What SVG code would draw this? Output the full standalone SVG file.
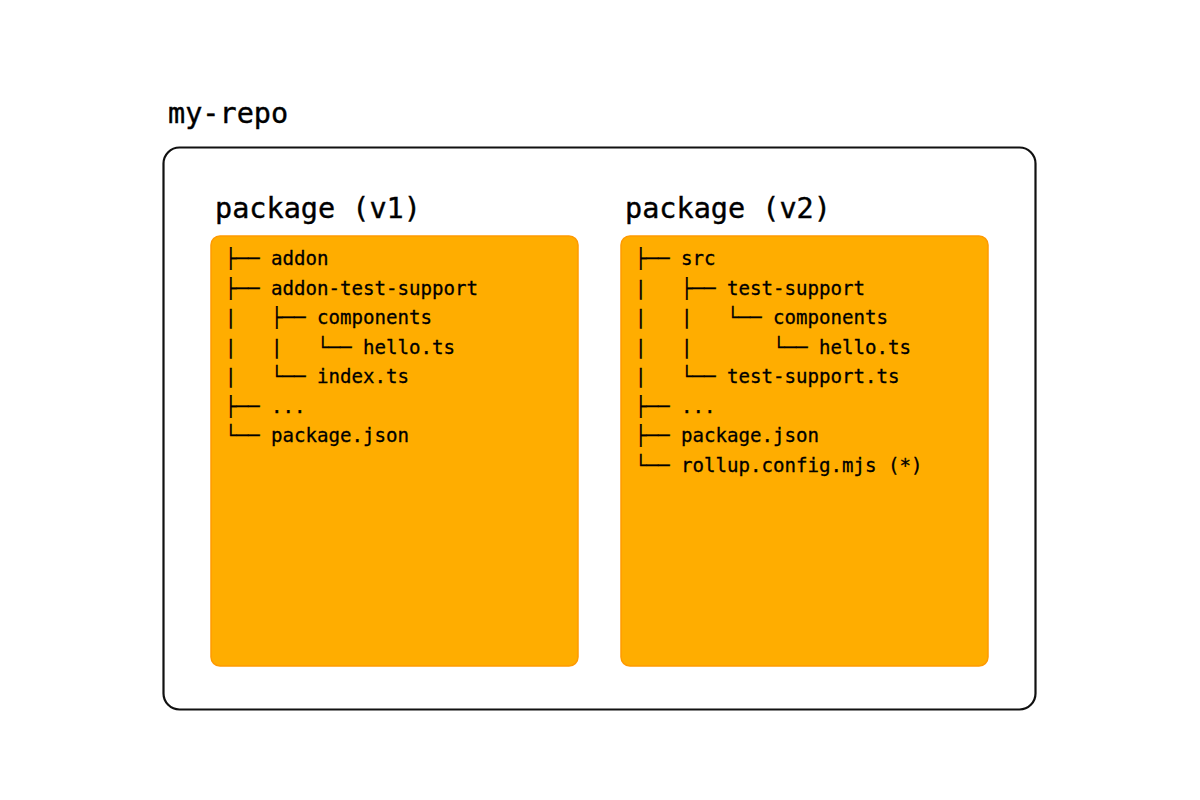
<svg xmlns="http://www.w3.org/2000/svg" width="1200" height="800" viewBox="0 0 1200 800">
<style>
.title{font-family:"DejaVu Sans Mono","Liberation Mono",monospace;font-size:28.5px;fill:#000;stroke:#000;stroke-width:0.4}
.tree{font-family:"DejaVu Sans Mono","Liberation Mono",monospace;font-size:19.1px;fill:#000;stroke:#000;stroke-width:0.3;white-space:pre}
.pkg{fill:#ffad00;stroke:#ff9a00;stroke-width:1.5}
</style>
<rect width="1200" height="800" fill="#fff"/>
<g id="my-repo">
<rect x="163.5" y="147.5" width="872" height="562" rx="16" fill="#fff" stroke="#111" stroke-width="2.2"/>
<text class="title" x="168" y="123">my-repo</text>
</g>
<g id="package-v1">
<text class="title" x="215" y="218">package (v1)</text>
<rect class="pkg" x="211" y="236" width="367" height="430" rx="9"/>
<text class="tree" xml:space="preserve"><tspan x="225" y="265">├── addon</tspan><tspan x="225" y="294.5">├── addon-test-support</tspan><tspan x="225" y="324">|   ├── components</tspan><tspan x="225" y="353.5">|   |   └── hello.ts</tspan><tspan x="225" y="383">|   └── index.ts</tspan><tspan x="225" y="412.5">├── ...</tspan><tspan x="225" y="442">└── package.json</tspan></text>
</g>
<g id="package-v2">
<text class="title" x="625" y="218">package (v2)</text>
<rect class="pkg" x="621" y="236" width="367" height="430" rx="9"/>
<text class="tree" xml:space="preserve"><tspan x="635" y="265">├── src</tspan><tspan x="635" y="294.5">|   ├── test-support</tspan><tspan x="635" y="324">|   |   └── components</tspan><tspan x="635" y="353.5">|   |       └── hello.ts</tspan><tspan x="635" y="383">|   └── test-support.ts</tspan><tspan x="635" y="412.5">├── ...</tspan><tspan x="635" y="442">├── package.json</tspan><tspan x="635" y="471.5">└── rollup.config.mjs (*)</tspan></text>
</g>
<g id="connectors"/>
</svg>
